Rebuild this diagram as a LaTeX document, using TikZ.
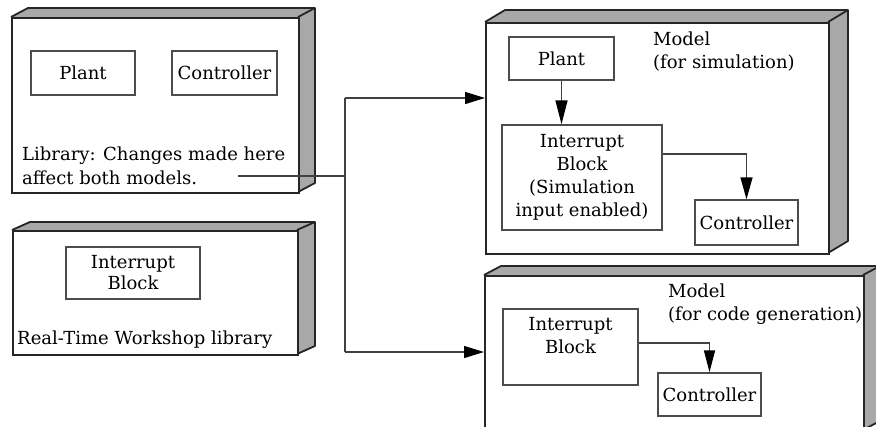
\documentclass[tikz,border=0pt]{standalone}
\usepackage{fontspec}
\setmainfont{DejaVu Serif}
\usetikzlibrary{arrows.meta}
\tikzset{
  outline/.style={draw=black!85, line width=1.8pt, line join=round},
  frontbox/.style={draw=black!85, line width=1.8pt, fill=white, inner sep=0pt},
  blockbox/.style={draw=black!70, line width=1.4pt, inner sep=0pt, align=center},
  conn/.style={draw=black!75, line width=1.4pt},
  arr/.style={conn, -{Triangle[length=20pt,width=12pt,color=black]}},
  txt/.style={inner sep=0pt}
}
\newcommand\mkbox[7]{%
  \fill[black!34] (#2,#3) -- (#2+#6,#3-#7) -- (#4+#6,#3-#7) -- (#4+#6,#5-#7) -- (#4,#5) -- (#4,#3) -- cycle;
  \draw[outline] (#2,#3) -- (#2+#6,#3-#7) -- (#4+#6,#3-#7) -- (#4+#6,#5-#7) -- (#4,#5);
  \draw[outline] (#4,#3) -- (#4+#6,#3-#7);
  \node[frontbox, minimum width=#4-#2, minimum height=#5-#3, anchor=north west] (#1) at (#2,#3) {};
}
\begin{document}
\begin{tikzpicture}[x=1pt,y=-1pt, every node/.append style={font=\fontsize{18}{23}\selectfont}]
\useasboundingbox (0,0) rectangle (876,426);
\clip (0,0) rectangle (876,426);
\fill[white] (0,0) rectangle (876,426);

% Library box
\mkbox{lib}{11}{17}{298}{192}{17}{9}
\node[blockbox, minimum width=104, minimum height=44] (plantA) at (83,73) {Plant};
\node[blockbox, minimum width=105, minimum height=44] (ctrlA) at (224.5,73) {Controller};
\node[txt, anchor=west, align=left, font=\fontsize{18}{24}\selectfont] (libtxt) at (22,166) {Library: Changes made here\\affect both models.};

% Real-Time Workshop library box
\mkbox{rtw}{12}{230}{297}{354}{18}{8}
\node[blockbox, minimum width=134, minimum height=52, font=\fontsize{18}{21}\selectfont] (intA) at (133,273) {Interrupt\\Block};
\node[txt, anchor=west] (rtwtxt) at (17,340) {Real-Time Workshop library};

% Model for simulation
\mkbox{sim}{485}{22}{828}{253}{20}{12}
\node[blockbox, minimum width=105, minimum height=43] (plantB) at (561.5,58.5) {Plant};
\node[blockbox, minimum width=160, minimum height=105] (intB) at (582,177.5) {Interrupt\\Block\\(Simulation\\input enabled)};
\node[blockbox, minimum width=103, minimum height=45] (ctrlB) at (746.5,222.5) {Controller};
\node[txt, anchor=west, align=left] (simlbl) at (653,52) {Model\\(for simulation)};
\draw[conn, -{Triangle[length=24pt,width=12pt,color=black]}] (plantB.south) -- (plantB.south |- intB.north);
\draw[conn, -{Triangle[length=22pt,width=12pt,color=black]}] ([yshift=23.5pt]intB.east) -| (ctrlB.north);

% Model for code generation
\mkbox{code}{484}{275}{863}{430}{17}{9}
\node[blockbox, minimum width=135, minimum height=76] (intC) at (570.5,347) {};
\node[txt, align=center] (intCtxt) at (570.5,336) {Interrupt\\Block};
\node[blockbox, minimum width=103, minimum height=43] (ctrlC) at (709.5,394.5) {Controller};
\node[txt, anchor=west, align=left] (codelbl) at (668,304.5) {Model\\(for code generation)};
\draw[conn, -{Triangle[length=22pt,width=11pt,color=black]}] ([yshift=4pt]intC.east) -| (ctrlC.north);

% Connectors from library
\coordinate (libout) at (238,176);
\coordinate (jmid) at (345,176);
\coordinate (jtop) at (345,98);
\coordinate (jbot) at (345,352);
\draw[conn] (libout) -- (jmid);
\draw[conn] (jtop) -- (jbot);
\draw[arr] (jtop) -- (jtop -| sim.west);
\draw[arr] (jbot) -- (jbot -| code.west);
\end{tikzpicture}
\end{document}
